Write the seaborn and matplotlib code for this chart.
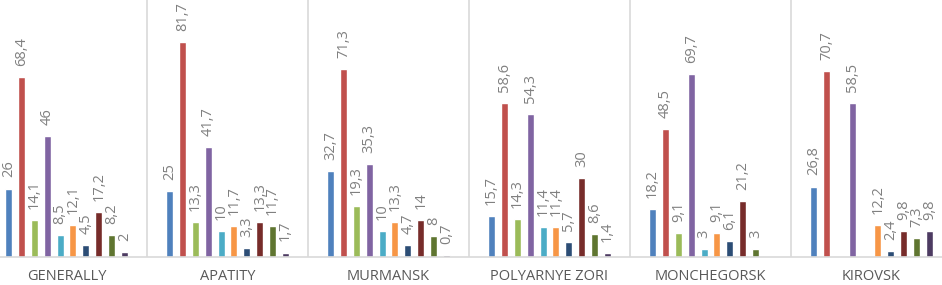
import matplotlib
matplotlib.use("Agg")
import matplotlib.pyplot as plt
import seaborn as sns
import pandas as pd
import numpy as np

# Chart data (values in %)
cities = ["GENERALLY", "APATITY", "MURMANSK", "POLYARNYE ZORI", "MONCHEGORSK", "KIROVSK"]
series = [f"answer_{i}" for i in range(1, 11)]

answer_1 = [26, 25, 32.7, 15.7, 18.2, 26.8]
answer_2 = [68.4, 81.7, 71.3, 58.6, 48.5, 70.7]
answer_3 = [14.1, 13.3, 19.3, 14.3, 9.1, np.nan]
answer_4 = [46, 41.7, 35.3, 54.3, 69.7, 58.5]
answer_5 = [8.5, 10, 10, 11.4, 3, np.nan]
answer_6 = [12.1, 11.7, 13.3, 11.4, 9.1, 12.2]
answer_7 = [4.5, 3.3, 4.7, 5.7, 6.1, 2.4]
answer_8 = [17.2, 13.3, 14, 30, 21.2, 9.8]
answer_9 = [8.2, 11.7, 8, 8.6, 3, 7.3]
answer_10 = [2, 1.7, 0.7, 1.4, np.nan, 9.8]

values = [answer_1, answer_2, answer_3, answer_4, answer_5,
          answer_6, answer_7, answer_8, answer_9, answer_10]

# Excel 2010 style series colours
colors = ["#4F81BD", "#C0504D", "#9BBB59", "#8064A2", "#4BACC6",
          "#F79646", "#2C4D75", "#772C2A", "#5F7530", "#4D3B62"]

rows = []
for name, vals in zip(series, values):
    for city, v in zip(cities, vals):
        rows.append({"city": city, "series": name, "value": v})
df = pd.DataFrame(rows).dropna()

sns.set_style("white")
plt.rcParams["font.family"] = ["Open Sans", "DejaVu Sans"]

fig = plt.figure(figsize=(9.42, 2.85), dpi=100)
ax = fig.add_axes([0, 28 / 285, 1, 257 / 285])

sns.barplot(data=df, x="city", y="value", hue="series", order=cities,
            hue_order=series, palette=colors, width=0.8, gap=0.46,
            legend=False, ax=ax, saturation=1, errorbar=None)

for cont in ax.containers:
    labels = [f"{round(b.get_height(), 1):g}".replace(".", ",") for b in cont]
    ax.bar_label(cont, labels=labels, rotation=90, padding=8,
                 fontsize=10.5, color="#808080")

# category separators
for i in range(len(cities) - 1):
    ax.axvline(i + 0.5, color="#D9D9D9", lw=1.2, zorder=0)

ax.set_xlim(-0.413, 5.438)
ax.set_ylim(0, 97.7)
ax.set_xlabel("")
ax.set_ylabel("")
ax.set_yticks([])
ax.tick_params(axis="x", length=0, pad=9, labelsize=10.5, labelcolor="#595959")
for s in ["top", "left", "right"]:
    ax.spines[s].set_visible(False)
ax.spines["bottom"].set_color("#D9D9D9")
ax.spines["bottom"].set_linewidth(1.2)

fig.savefig("out.png", dpi=100)
